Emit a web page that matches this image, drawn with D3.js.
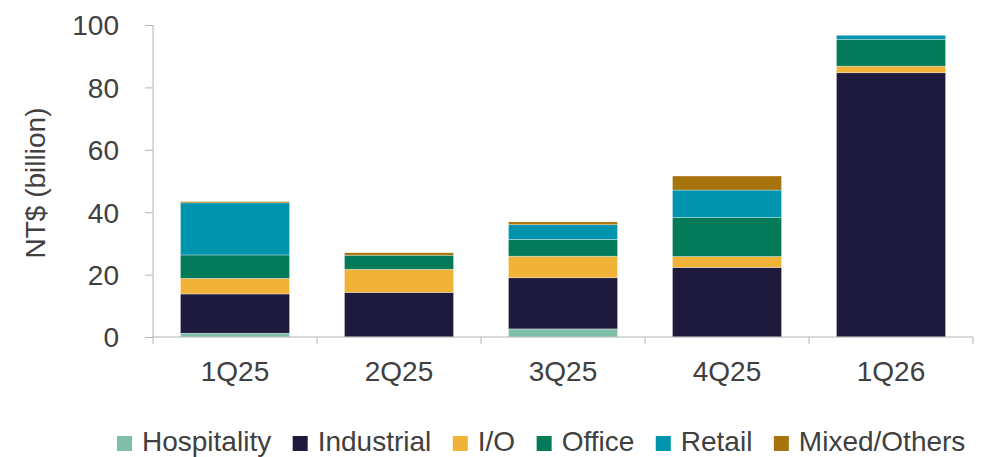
<!DOCTYPE html>
<html>
<head>
<meta charset="utf-8">
<script src="https://cdn.jsdelivr.net/npm/d3@7"></script>
<style>
  body { margin: 0; background: #fff; }
  svg text { font-family: "Liberation Sans", Arial, sans-serif; fill: #404040; }
</style>
</head>
<body>
<div class="chart"></div>
<script>
// data (NT$ billion)
const quarters = ["1Q25", "2Q25", "3Q25", "4Q25", "1Q26"];
const sectors = ["Hospitality", "Industrial", "I/O", "Office", "Retail", "Mixed/Others"];
const hospitality = [1.2, 0, 2.6, 0, 0];
const industrial = [12.6, 14.3, 16.4, 22.3, 84.7];
const io = [5.0, 7.4, 6.9, 3.5, 2.1];
const office = [7.5, 4.5, 5.4, 12.5, 8.6];
const retail = [16.7, 0, 4.7, 8.8, 1.3];
const mixed = [0.4, 0.8, 0.9, 4.5, 0];
const yTicks = [0, 20, 40, 60, 80, 100];

const colors = ["#7fbfa9", "#1e1a3d", "#f0b337", "#037a58", "#0094ae", "#a6730c"];

const width = 983, height = 457;
const margin = { top: 25, right: 10, bottom: 120, left: 153 };
const plotRight = 973, plotBottom = 337;

const series = [hospitality, industrial, io, office, retail, mixed];
const rows = quarters.map((q, i) => {
  const r = { quarter: q };
  sectors.forEach((s, j) => { r[s] = series[j][i]; });
  return r;
});

const svg = d3.select(".chart")
  .append("svg")
  .attr("width", width)
  .attr("height", height);

const x = d3.scaleBand()
  .domain(quarters)
  .range([margin.left, plotRight])
  .paddingInner(0.335)
  .paddingOuter(0.1675);

const y = d3.scaleLinear()
  .domain([0, 100])
  .range([plotBottom, margin.top]);

const stacked = d3.stack().keys(sectors)(rows);

// bars
svg.append("g")
  .selectAll("g")
  .data(stacked)
  .enter()
  .append("g")
  .attr("fill", (d, i) => colors[i])
  .selectAll("rect")
  .data(d => d)
  .enter()
  .append("rect")
  .attr("x", d => x(d.data.quarter))
  .attr("width", x.bandwidth())
  .attr("y", d => y(d[1]))
  .attr("height", d => y(d[0]) - y(d[1]))
  .attr("stroke", "#ffffff")
  .attr("stroke-opacity", 0.45)
  .attr("stroke-width", 0.7);

// y axis
const yAxis = svg.append("g")
  .attr("transform", `translate(${margin.left},0)`)
  .call(d3.axisLeft(y).tickValues(yTicks).tickSize(8).tickPadding(26));
yAxis.selectAll("line").attr("stroke", "#b4b4b4");
yAxis.select(".domain").attr("stroke", "#b4b4b4").attr("d", `M0,${margin.top}V${plotBottom}`);
yAxis.selectAll("text")
  .style("font-size", "28px")
  .attr("dy", "0.35em");

// x axis: labels at centers, tick marks at category boundaries
const step = x.step();
const xAxis = svg.append("g")
  .attr("transform", `translate(0,${plotBottom})`)
  .call(d3.axisBottom(x).tickSize(0).tickPadding(24));
xAxis.select(".domain").attr("stroke", "#b4b4b4").attr("d", `M${margin.left},0H${plotRight}`);
xAxis.selectAll("text").style("font-size", "28px");

const bounds = quarters.map(q => x(q) - (step - x.bandwidth()) / 2);
bounds.push(plotRight);
xAxis.selectAll(".bound")
  .data(bounds)
  .enter()
  .append("line")
  .attr("class", "bound")
  .attr("x1", d => d).attr("x2", d => d)
  .attr("y1", 0).attr("y2", 7)
  .attr("stroke", "#b4b4b4");

// y axis title
svg.append("text")
  .attr("transform", `translate(45,${(margin.top + plotBottom) / 2 + 2}) rotate(-90)`)
  .attr("text-anchor", "middle")
  .style("font-size", "28px")
  .text("NT$ (billion)");

// legend
const legend = svg.append("g").attr("transform", "translate(117,451)");
let lx = 0;
sectors.forEach((s, i) => {
  const item = legend.append("g").attr("transform", `translate(${lx},0)`);
  item.append("rect")
    .attr("x", 0).attr("y", -15)
    .attr("width", 15).attr("height", 15)
    .attr("fill", colors[i]);
  const t = item.append("text")
    .attr("x", 25).attr("y", 0)
    .style("font-size", "28px")
    .text(s);
  lx += 25 + t.node().getComputedTextLength() + 21.5;
});
</script>
</body>
</html>
